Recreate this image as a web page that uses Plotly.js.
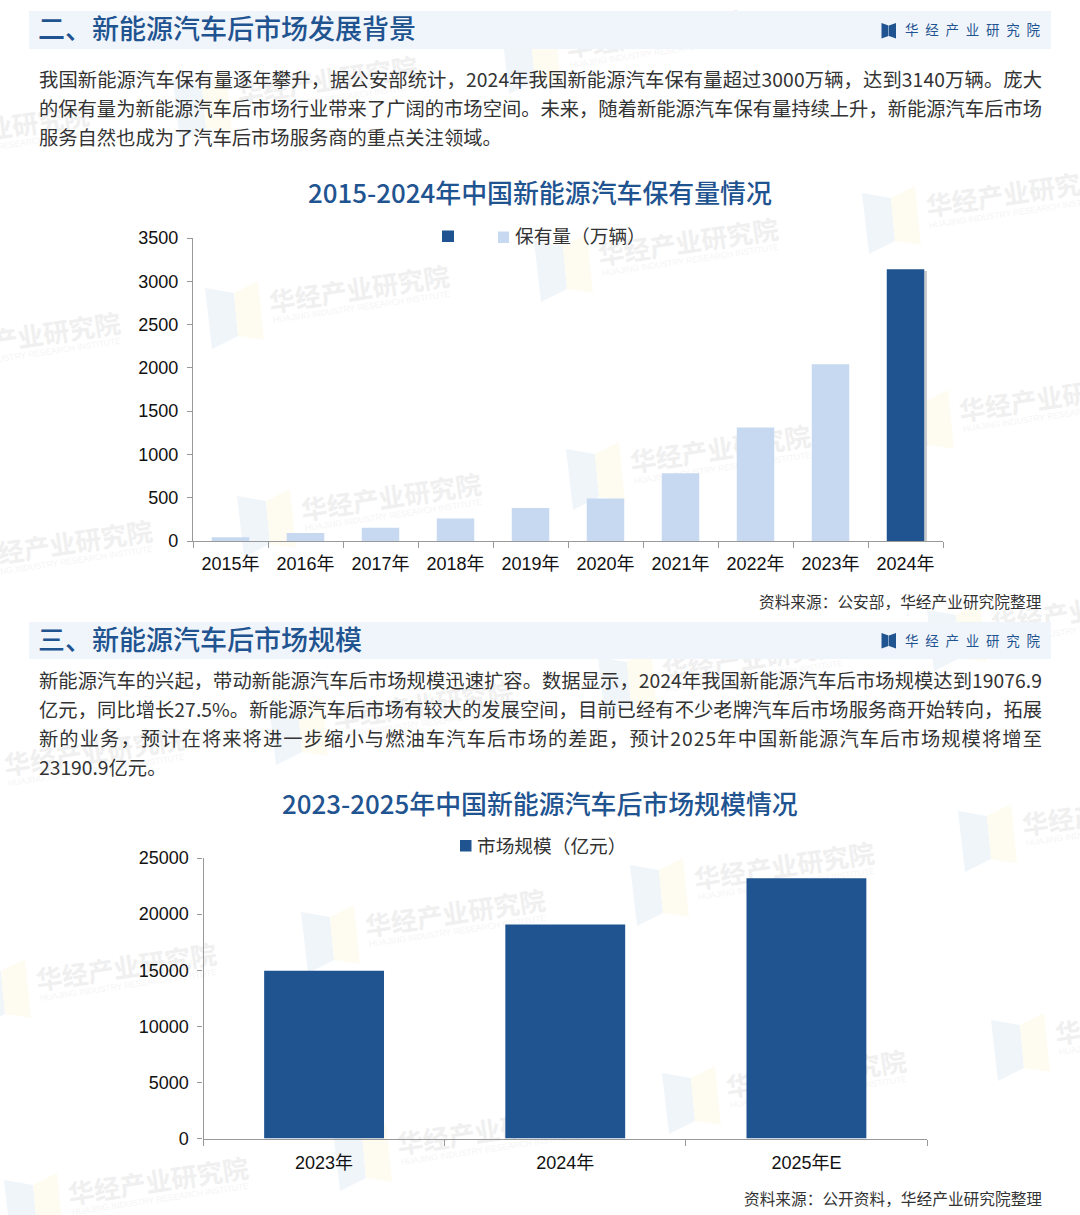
<!DOCTYPE html>
<html>
<head>
<meta charset="utf-8">
<script src="https://cdn.plot.ly/plotly-3.0.1.min.js"></script>
<style>
  body { margin: 0; background: #fff; }
  #watermark, #chart { position: absolute; left: 0; top: 0; width: 1080px; height: 1215px; }
</style>
</head>
<body>
<div id="watermark"></div>
<div id="chart"></div>
<script>
// Data
var years = ['2015年', '2016年', '2017年', '2018年', '2019年', '2020年', '2021年', '2022年', '2023年', '2024年'];
var holdings = [42, 91, 153, 261, 381, 492, 784, 1310, 2041, 3140];
var marketYears = ['2023年', '2024年', '2025年E'];
var marketSize = [14962, 19076.9, 23190.9];

// Text
var intro1 = [
  '我国新能源汽车保有量逐年攀升，据公安部统计，2024年我国新能源汽车保有量超过3000万辆，达到3140万辆。庞大',
  '的保有量为新能源汽车后市场行业带来了广阔的市场空间。未来，随着新能源汽车保有量持续上升，新能源汽车后市场',
  '服务自然也成为了汽车后市场服务商的重点关注领域。'
];
var intro2 = [
  '新能源汽车的兴起，带动新能源汽车后市场规模迅速扩容。数据显示，2024年我国新能源汽车后市场规模达到19076.9',
  '亿元，同比增长27.5%。新能源汽车后市场有较大的发展空间，目前已经有不少老牌汽车后市场服务商开始转向，拓展',
  '新的业务，预计在将来将进一步缩小与燃油车汽车后市场的差距，预计2025年中国新能源汽车后市场规模将增至',
  '23190.9亿元。'
];

var W = 1080, H = 1215;
var DARK = '#1f5491', LIGHT = '#c6d9f1', AXIS = '#999999';
var CJK = '"Noto Sans CJK SC", "Noto Sans", sans-serif';
var TICK = '"Liberation Sans", "Noto Sans CJK SC", sans-serif';

function px(x) { return x / W; }
function py(y) { return 1 - y / H; }

function label(text, x, y, size, color, anchor, weight, font) {
  return {
    text: text, x: px(x), y: py(y), xref: 'paper', yref: 'paper',
    xanchor: anchor || 'left', yanchor: 'middle', align: anchor || 'left', showarrow: false, borderpad: 0,
    font: { family: font || CJK, size: size, color: color, weight: weight || 400 }
  };
}

function poly(points, color) {
  var d = points.map(function (p, i) {
    return (i ? 'L' : 'M') + px(p[0]) + ',' + py(p[1]);
  }).join(' ') + ' Z';
  return { type: 'path', path: d, xref: 'paper', yref: 'paper', fillcolor: color, line: { width: 0 }, layer: 'below' };
}

function rect(x0, y0, x1, y1, color) {
  return { type: 'rect', xref: 'paper', yref: 'paper', x0: px(x0), x1: px(x1), y0: py(y0), y1: py(y1),
    fillcolor: color, line: { width: 0 }, layer: 'below' };
}

// Watermarks, drawn in their own plot behind the charts
var marks = [[-155, 127], [173, 80], [502, 33], [-124, 335], [205, 288], [534, 241], [862, 193],
  [-92, 543], [237, 496], [566, 449], [895, 397], [-60, 751], [269, 704], [598, 657], [927, 610],
  [-28, 966], [301, 912], [630, 865], [958, 811], [333, 1130], [662, 1073], [991, 1020], [4, 1180]];
var wmShapes = [], wmNotes = [];
marks.forEach(function (m) {
  var x = m[0], y = m[1];
  wmShapes.push(poly([[x, y], [x + 29, y + 5], [x + 33, y + 48], [x + 7, y + 61]], '#f0f5fa'));
  wmShapes.push(poly([[x + 29, y + 5], [x + 53, y - 7], [x + 59, y + 52], [x + 33, y + 48]], '#fefcf1'));
  var a = label('华经产业研究院', x + 154, y - 1, 26, '#f0f0f0', 'center', 700);
  a.textangle = -8.5;
  wmNotes.push(a);
  var b = label('HUAJING INDUSTRY RESEARCH INSTITUTE', x + 156, y + 19, 8.5, '#f5f5f5', 'center', 400, TICK);
  b.textangle = -8.5;
  wmNotes.push(b);
});

Plotly.newPlot('watermark', [], {
  width: W, height: H, margin: { l: 0, r: 0, t: 0, b: 0 },
  paper_bgcolor: '#ffffff', plot_bgcolor: '#ffffff',
  xaxis: { visible: false }, yaxis: { visible: false },
  shapes: wmShapes, annotations: wmNotes, showlegend: false
}, { displayModeBar: false, staticPlot: true });

// Charts
var data = [
  { x: years.slice(9), y: holdings.slice(9), name: ' ', type: 'bar', width: 0.5, xaxis: 'x', yaxis: 'y',
    marker: { color: DARK }, hoverinfo: 'none' },
  { x: years.slice(0, 9), y: holdings.slice(0, 9), name: '保有量（万辆）', type: 'bar', width: 0.5, xaxis: 'x', yaxis: 'y',
    marker: { color: LIGHT }, hoverinfo: 'none' },
  { x: marketYears, y: marketSize, name: '市场规模（亿元）', type: 'bar', width: 0.497, xaxis: 'x2', yaxis: 'y2',
    marker: { color: DARK }, hoverinfo: 'none' }
];

function xAxis(domain, cats, anchor, standoff) {
  return {
    domain: domain, anchor: anchor, type: 'category', categoryorder: 'array', categoryarray: cats,
    tickson: 'boundaries', ticks: 'outside', ticklen: 6, tickwidth: 1.2, tickcolor: AXIS,
    showline: true, linecolor: AXIS, linewidth: 1.3, showgrid: false, zeroline: false,
    tickfont: { family: TICK, size: 18, color: '#111111' }, ticklabelstandoff: standoff, fixedrange: true
  };
}

function yAxis(domain, max, step, anchor) {
  return {
    domain: domain, anchor: anchor, range: [0, max], dtick: step, tick0: 0, tickformat: 'd',
    ticks: 'outside', ticklen: 5, tickwidth: 1.2, tickcolor: AXIS,
    showline: true, linecolor: AXIS, linewidth: 1.3, showgrid: false, zeroline: false,
    tickfont: { family: TICK, size: 18, color: '#111111' }, ticklabelstandoff: 5, fixedrange: true
  };
}

var annotations = [
  label('二、新能源汽车后市场发展背景', 36.5, 27.5, 27, DARK, 'left', 500),
  label('三、新能源汽车后市场规模', 36.5, 638.5, 27, DARK, 'left', 500),
  label('华\u2002经\u2002产\u2002业\u2002研\u2002究\u2002院', 904, 29, 13.5, DARK),
  label('华\u2002经\u2002产\u2002业\u2002研\u2002究\u2002院', 904, 639.5, 13.5, DARK),
  label('2015-2024年中国新能源汽车保有量情况', 540, 191.5, 25.9, DARK, 'center', 500),
  label('2023-2025年中国新能源汽车后市场规模情况', 540, 802.5, 25.9, DARK, 'center', 500),
  label('资料来源：公安部，华经产业研究院整理', 1042.5, 601, 15.7, '#333333', 'right'),
  label('资料来源：公开资料，华经产业研究院整理', 1042.5, 1198.5, 15.7, '#333333', 'right'),
  label('保有量（万辆）', 513.5, 234.5, 18.7, '#333333'),
  label('市场规模（亿元）', 476, 844, 18.7, '#333333')
];
intro1.forEach(function (line, i) { annotations.push(label(line, 37.5, 79 + i * 29.2, 19.3, '#333333')); });
intro2.forEach(function (line, i) { annotations.push(label(line, 37.5, 679.5 + i * 29.3, 19.3, '#333333')); });

function bookLogo(x, y) {
  return [
    poly([[x, y], [x + 7, y + 2.5], [x + 7, y + 13], [x, y + 15.5]], DARK),
    poly([[x + 7.5, y + 2.5], [x + 14.5, y], [x + 14.5, y + 15.5], [x + 7.5, y + 13]], DARK)
  ];
}

var shapes = [rect(29, 11, 1051, 49, '#f0f5fb'), rect(29, 622, 1051, 659, '#f0f5fb')]
  .concat(bookLogo(881.5, 23), bookLogo(881.5, 633));

// legend keys
shapes.push(rect(442, 230.5, 454, 242, DARK));
shapes.push(rect(498, 231.5, 509, 243, LIGHT));
shapes.push(rect(460, 840, 471.5, 851.5, DARK));

// soft shadow on the right of the 2024 bar
shapes.push({ type: 'rect', xref: 'x', yref: 'y', x0: 9.25, x1: 9.285, y0: 0, y1: holdings[9] - 20,
  fillcolor: '#c8c8c8', line: { width: 0 }, layer: 'below' });

var layout = {
  width: W, height: H, margin: { l: 0, r: 0, t: 0, b: 0 },
  paper_bgcolor: 'rgba(0,0,0,0)', plot_bgcolor: 'rgba(0,0,0,0)',
  barmode: 'overlay', showlegend: false,
  xaxis: xAxis([px(193), px(943)], years, 'y', 6),
  yaxis: yAxis([py(541), py(238)], 3500, 500, 'x'),
  xaxis2: xAxis([px(203.5), px(927)], marketYears, 'y2', 8),
  yaxis2: yAxis([py(1138.5), py(858)], 25000, 5000, 'x2'),
  shapes: shapes,
  annotations: annotations
};

// body lines run the full column width, the last line of a paragraph does not
var justified = intro1.slice(0, 2).concat(intro2.slice(0, 3));
Plotly.newPlot('chart', data, layout, { displayModeBar: false }).then(function () {
  document.querySelectorAll('#chart .annotation-text').forEach(function (t) {
    var line = t.textContent;
    if (justified.indexOf(line) < 0) return;
    var extra = 1003 - t.getComputedTextLength();
    t.style.letterSpacing = (extra / (line.length - 1)) + 'px';
  });
});
</script>
</body>
</html>
